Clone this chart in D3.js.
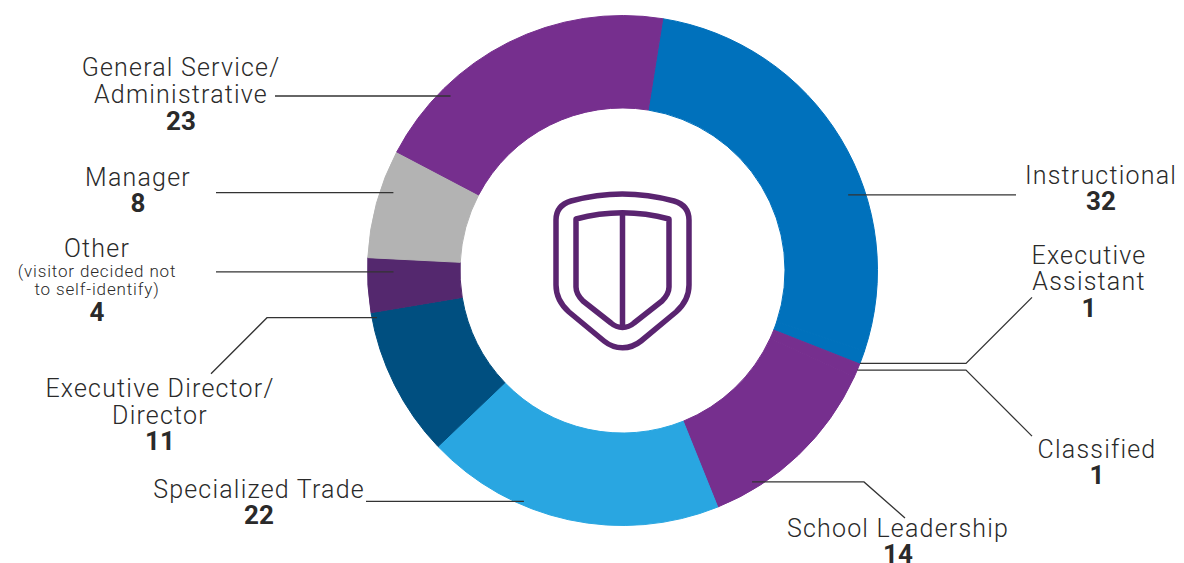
<!DOCTYPE html>
<html>
<head>
<meta charset="utf-8">
<style>
html,body{margin:0;padding:0;background:#fff;overflow:hidden}
svg{display:block}
text{font-family:Roboto,"Noto Sans",sans-serif;fill:#2a2a2a;text-anchor:middle}
.name{font-size:25px;font-weight:300;letter-spacing:1.2px}
.note{font-size:17px;font-weight:300;letter-spacing:.85px}
.count{font-size:26px;font-weight:700}
</style>
<script src="https://cdn.jsdelivr.net/npm/d3@7"></script>
</head>
<body>
<svg id="chart" width="1184" height="563"></svg>
<script>
// Visitor roles, clockwise from the top of the ring
const categories = ["Instructional","Executive Assistant","Classified","School Leadership","Specialized Trade","Executive Director/Director","Other","Manager","General Service/Administrative"];
const counts = [32,1,1,14,22,11,4,8,23];
const sliceColors = ["#0071bc","#0071bc","#762f8e","#762f8e","#29a6e1","#004f80","#54286e","#b3b3b3","#762f8e"];

// Label blocks: each line of text, its style, and where it sits on the page
const labelX = [1101,1089,1097,898,259,160,97,138,181];
const labelLines = [
  [["Instructional","name",184],["32","count",210]],
  [["Executive","name",264],["Assistant","name",290],["1","count",317]],
  [["Classified","name",458],["1","count",484]],
  [["School Leadership","name",537],["14","count",563]],
  [["Specialized Trade","name",498],["22","count",524]],
  [["Executive Director/","name",397],["Director","name",424],["11","count",450]],
  [["Other","name",257],["(visitor decided not","note",277],["to self-identify)","note",295],["4","count",321]],
  [["Manager","name",186],["8","count",212]],
  [["General Service/","name",76],["Administrative","name",103],["23","count",130]]
];

// Leader lines: where in the slice each starts (share of its sweep, radius),
// how far the horizontal run reaches, and the optional diagonal tail
const leaderShare = [.628,.95,.48,.78,.66,.96,.74,.64,.248];
const leaderRadius = [238,255,255,248,251,250,229,242,245];
const leaderRunX = [1016,966,966,864,366,267,216,216,275];
const leaderTail = [null,[66,-66],[66,66],[41,36],null,[-56,56],null,null,null];

const cx = 622.5, cy = 270.5, outerR = 255, innerR = 162.5;
const startAngle = 9.1 * Math.PI / 180;

const svg = d3.select("#chart");

const slices = d3.pie().sort(null)
  .startAngle(startAngle).endAngle(startAngle + 2 * Math.PI)(counts);
const arc = d3.arc().innerRadius(innerR).outerRadius(outerR);

// A thin stroke in the slice's own colour closes the seams between neighbours
const ring = svg.append("g").attr("transform", `translate(${cx},${cy})`);
ring.selectAll("path").data(slices).join("path")
  .attr("d", arc)
  .attr("fill", (d, i) => sliceColors[i])
  .attr("stroke", (d, i) => sliceColors[i])
  .attr("stroke-width", 1)
  .append("title").text((d, i) => `${categories[i]}: ${d.value}`);

// Leaders start from a point inside their slice, so they follow the data
const line = d3.line();
svg.append("g").selectAll("path").data(slices).join("path")
  .attr("fill", "none")
  .attr("stroke", "#333")
  .attr("stroke-width", 1.3)
  .attr("d", (d, i) => {
    const a = d.startAngle + (d.endAngle - d.startAngle) * leaderShare[i];
    const x = cx + leaderRadius[i] * Math.sin(a);
    const y = cy - leaderRadius[i] * Math.cos(a);
    const pts = [[x, y], [leaderRunX[i], y]];
    if (leaderTail[i]) pts.push([leaderRunX[i] + leaderTail[i][0], y + leaderTail[i][1]]);
    return line(pts);
  });

// Text blocks
const blocks = svg.append("g").selectAll("g").data(labelLines).join("g");
blocks.each(function(rows, i) {
  d3.select(this).selectAll("text").data(rows).join("text")
    .attr("x", labelX[i])
    .attr("y", r => r[2])
    .attr("class", r => r[1])
    .text(r => r[0]);
});

// Shield emblem in the middle of the ring
const emblem = svg.append("g")
  .attr("fill", "none").attr("stroke", "#5a2470").attr("stroke-width", 5.5)
  .attr("stroke-linejoin", "round").attr("stroke-linecap", "round");
emblem.append("path").attr("d",
  "M622.3 194 C603 194 586 197 571 201 C561 204 556 210 556 220 L556 285 C556 296 560 304 569 312 L604 341 C615 350 630 350 641 341 L676 312 C685 304 689 296 689 285 L689 220 C689 210 684 204 674 201 C659 197 642 194 622.3 194 Z");
emblem.append("path").attr("d",
  "M576 219 C606 211 639 211 669 219 L669 287 C669 293 666 297 662 301 L634 323 C627 329 618 329 611 323 L583 301 C579 297 576 293 576 287 Z");
emblem.append("path").attr("d", "M622.5 214 L622.5 326");
</script>
</body>
</html>
